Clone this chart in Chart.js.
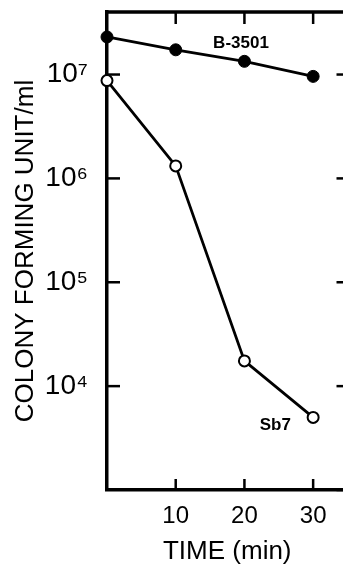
<!DOCTYPE html>
<html>
<head>
<meta charset="utf-8">
<script src="https://cdn.jsdelivr.net/npm/chart.js@4.4.0/dist/chart.umd.min.js"></script>
<style>
  html, body { margin: 0; padding: 0; background: #fff; overflow: hidden; }
  #zona { width: 343px; height: 565px; overflow: hidden; }
</style>
</head>
<body>
<div id="zona"><canvas id="grafic" width="355" height="565"></canvas></div>
<script>
// Dades
const temps = [0, 10, 20, 30];
const b3501 = [2.3e7, 1.73e7, 1.34e7, 9.6e6];
const sb7 = [8.75e6, 1.32e6, 1.75e4, 5.0e3];
const xTicks = [10, 20, 30];
const decadeExps = [3, 4, 5, 6, 7];
const labelledExps = [4, 5, 6, 7];
const minorSteps = [2, 3, 4, 5, 6, 7, 8, 9];
const etiquetes = ['B-3501', 'Sb7'];
const etiquetesX = [19.5, 24.5];
const etiquetesY = [1.98e7, 4.2e3];

const yMin = 1e3;
const yMax = 4e7;
const FONT = "'Liberation Sans', 'DejaVu Sans', sans-serif";
const sup = { '3': '\u00b3', '4': '\u2074', '5': '\u2075', '6': '\u2076', '7': '\u2077' };

// Marc superior/dret i marques cap endins
const marquesInteriors = {
  id: 'marquesInteriors',
  beforeDatasetsDraw(chart) {
    const { ctx, chartArea: a, scales: { x, y } } = chart;
    ctx.save();
    ctx.strokeStyle = '#000';
    ctx.lineWidth = 3.5;
    ctx.beginPath();
    ctx.moveTo(a.left - 1.75, a.top);
    ctx.lineTo(a.right, a.top);
    ctx.lineTo(a.right, a.bottom + 1.75);
    ctx.stroke();

    ctx.lineWidth = 2.5;
    y.ticks.forEach(t => {
      const py = y.getPixelForValue(t.value);
      ctx.beginPath();
      ctx.moveTo(a.left, py);
      ctx.lineTo(a.left + 13, py);
      ctx.stroke();
    });
    decadeExps.forEach(e => {
      const py = y.getPixelForValue(Math.pow(10, e));
      ctx.beginPath();
      ctx.moveTo(a.right, py);
      ctx.lineTo(a.right - 11, py);
      ctx.stroke();
    });
    xTicks.forEach(v => {
      const px = x.getPixelForValue(v);
      ctx.beginPath();
      ctx.moveTo(px, a.bottom);
      ctx.lineTo(px, a.bottom - 11);
      ctx.moveTo(px, a.top);
      ctx.lineTo(px, a.top + 12);
      ctx.stroke();
    });
    ctx.restore();
  }
};

// Noms de les soques
const nomsSoques = {
  id: 'nomsSoques',
  afterDatasetsDraw(chart) {
    const { ctx, scales: { x, y } } = chart;
    ctx.save();
    ctx.fillStyle = '#000';
    ctx.font = 'bold 17px ' + FONT;
    ctx.textAlign = 'center';
    ctx.textBaseline = 'middle';
    etiquetes.forEach((t, i) => {
      ctx.fillText(t, x.getPixelForValue(etiquetesX[i]), y.getPixelForValue(etiquetesY[i]));
    });
    ctx.restore();
  }
};

const ctx = document.getElementById('grafic');
new Chart(ctx, {
  type: 'line',
  data: {
    datasets: [
      {
        label: 'B-3501',
        data: temps.map((t, i) => ({ x: t, y: b3501[i] })),
        borderColor: '#000',
        borderWidth: 2.8,
        pointRadius: 6,
        pointBackgroundColor: '#000',
        pointBorderColor: '#000',
        pointBorderWidth: 1,
        tension: 0,
        clip: false
      },
      {
        label: 'Sb7',
        data: temps.map((t, i) => ({ x: t, y: sb7[i] })),
        borderColor: '#000',
        borderWidth: 2.8,
        pointRadius: 5.5,
        pointBackgroundColor: '#fff',
        pointBorderColor: '#000',
        pointBorderWidth: 2,
        tension: 0,
        clip: false
      }
    ]
  },
  options: {
    responsive: false,
    animation: false,
    layout: { padding: { top: 12, right: 3, left: 0, bottom: 0 } },
    plugins: { legend: { display: false }, tooltip: { enabled: false } },
    scales: {
      x: {
        type: 'linear',
        min: 0,
        max: 35,
        grid: { display: false },
        border: { display: true, width: 3.5, color: '#000' },
        afterBuildTicks: s => { s.ticks = xTicks.map(v => ({ value: v })); },
        afterFit: s => { s.height = 75; s.paddingLeft = 0; s.paddingRight = 0; },
        ticks: {
          autoSkip: false,
          maxRotation: 0,
          padding: 4,
          color: '#000',
          font: { family: FONT, size: 24 }
        },
        title: {
          display: true,
          text: 'TIME (min)',
          color: '#000',
          font: { family: FONT, size: 26, lineHeight: 1 },
          padding: { top: 0, bottom: 0 }
        }
      },
      y: {
        type: 'logarithmic',
        min: yMin,
        max: yMax,
        grid: { display: false },
        border: { display: true, width: 3.5, color: '#000' },
        afterBuildTicks: s => {
          const vals = [];
          decadeExps.forEach(e => {
            const d = Math.pow(10, e);
            vals.push(d);
            minorSteps.forEach(m => { if (m * d <= yMax) vals.push(m * d); });
          });
          vals.sort((a, b) => a - b);
          s.ticks = vals.map(v => ({ value: v }));
        },
        afterFit: s => { s.width = 107; s.paddingTop = 0; s.paddingBottom = 0; },
        ticks: {
          autoSkip: false,
          padding: 11,
          color: '#000',
          font: { family: FONT, size: 28 },
          callback: v => {
            const e = Math.round(Math.log10(v));
            if (Math.abs(v - Math.pow(10, e)) < 1e-6 * v && labelledExps.includes(e)) {
              return '10' + sup[String(e)];
            }
            return null;
          }
        },
        title: {
          display: true,
          text: 'COLONY FORMING UNIT/ml',
          color: '#000',
          font: { family: FONT, size: 26 },
          padding: { top: 10, bottom: 0 }
        }
      }
    }
  },
  plugins: [marquesInteriors, nomsSoques]
});
</script>
</body>
</html>
